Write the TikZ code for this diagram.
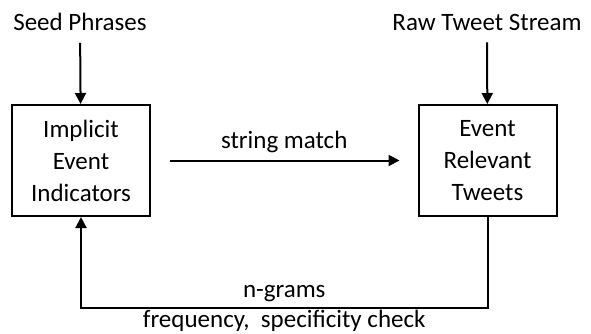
\documentclass[tikz,border=0pt]{standalone}
\usepackage{fontspec}
\setmainfont{Carlito}
\usetikzlibrary{arrows.meta}
\tikzset{
	box/.style={draw, line width=2pt, minimum width=138pt, minimum height=111pt, align=center, inner sep=0pt},
	arr/.style={line width=2pt, -{Triangle[length=11pt,width=11pt]}},
	lbl/.style={inner sep=0pt}
}
\begin{document}
\begin{tikzpicture}[x=1pt, y=-1pt, font=\fontsize{25}{32}\selectfont]
			\useasboundingbox (0,0) rectangle (591,334);
			%inputs
			\node[lbl] (seed) at (80, 22){Seed Phrases};
			\node[lbl] (raw) at (487, 22){Raw Tweet Stream};
			
			%boxes
			\node[box] (implicit) at (81, 160.5){Implicit\\Event\\Indicators};
			\node[box] (relevant) at (487.5, 160.5){Event\\Relevant\\Tweets};
			
			\draw[arr, shorten <=12pt] (seed) -- (implicit);
			\draw[arr, shorten <=12pt] (raw) -- (relevant);
			\draw[arr, shorten <=19pt, shorten >=18pt] (implicit) -- node[above=3pt]{string match} (relevant);
			
			%feedback loop
			\draw[arr] (relevant.south) -- ++(0, 91) coordinate (turn) -| node[pos=0.25, above=2pt]{n-grams} node[pos=0.25, below=-2pt]{frequency,\ \ specificity check} (implicit.south);
		\end{tikzpicture}
\end{document}
